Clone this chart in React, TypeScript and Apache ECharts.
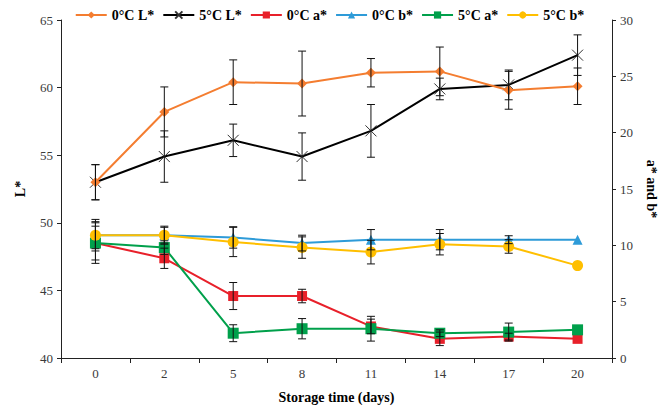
import React, { useEffect, useRef } from "react";
import * as echarts from "echarts";

const days = ["0", "2", "5", "8", "11", "14", "17", "20"];

const L0 = [53.0, 58.2, 60.4, 60.3, 61.1, 61.2, 59.8, 60.1];
const L0err = [1.3, 1.85, 1.65, 2.4, 1.05, 1.8, 1.4, 1.35];
const L5 = [53.0, 54.9, 56.1, 54.9, 56.8, 59.9, 60.2, 62.4];
const L5err = [1.3, 1.9, 1.2, 1.75, 1.95, 0.8, 1.1, 1.5];

const a0 = [10.2, 8.85, 5.5, 5.5, 2.8, 1.7, 1.9, 1.7];
const a0err = [1.8, 0.9, 1.2, 0.6, 0.65, 0.6, 0.3, 0];
const b0 = [10.9, 10.9, 10.7, 10.2, 10.5, 10.5, 10.5, 10.5];
const b0err = [1.2, 0.8, 0.95, 0.7, 0.9, 0.9, 0.35, 0];
const a5 = [10.2, 9.8, 2.2, 2.6, 2.6, 2.2, 2.3, 2.5];
const a5err = [1.5, 0.6, 0.75, 0.9, 1.1, 0.3, 0.8, 0];
const b5 = [10.9, 10.9, 10.3, 9.8, 9.4, 10.1, 9.9, 8.2];
const b5err = [1.4, 0.7, 1.3, 0.95, 1.05, 0.95, 0.6, 0];

const FONT = "Liberation Serif";
const CROSS = "path://M0,0L10,10M10,0L0,10";

function errorSeries(name: string, values: number[], errs: number[], yAxisIndex: number) {
  return {
    type: "custom",
    name: name + " err",
    yAxisIndex,
    z: 4,
    silent: true,
    encode: { x: 0, y: [1, 2] },
    data: values.map((v, i) => [i, v - errs[i], v + errs[i], errs[i]]),
    renderItem: (params: any, api: any) => {
      if (api.value(3) <= 0) return null;
      const x = api.value(0);
      const lo = api.coord([x, api.value(1)]);
      const hi = api.coord([x, api.value(2)]);
      const w = 4;
      const style = { stroke: "#111", lineWidth: 1 };
      return {
        type: "group",
        children: [
          { type: "line", shape: { x1: lo[0], y1: lo[1], x2: hi[0], y2: hi[1] }, style },
          { type: "line", shape: { x1: lo[0] - w, y1: lo[1], x2: lo[0] + w, y2: lo[1] }, style },
          { type: "line", shape: { x1: hi[0] - w, y1: hi[1], x2: hi[0] + w, y2: hi[1] }, style },
        ],
      };
    },
  };
}

function lineSeries(name: string, values: number[], color: string, symbol: string, size: number, yAxisIndex: number, z: number) {
  const isCross = symbol === CROSS;
  return {
    type: "line",
    name,
    data: values,
    yAxisIndex,
    symbol,
    symbolSize: size,
    showSymbol: true,
    z,
    lineStyle: { color, width: 2 },
    itemStyle: isCross
      ? { color: "#000", borderColor: "#333", borderWidth: 1 }
      : { color, borderWidth: 0 },
  };
}

export default function App() {
  const ref = useRef<HTMLDivElement>(null);
  useEffect(() => {
    if (!ref.current) return;
    const chart = echarts.init(ref.current, null, { renderer: "svg" });
    const axisLabel = { fontFamily: FONT, fontSize: 13, color: "#3a3a3a" };
    const nameStyle = { fontFamily: FONT, fontSize: 14, fontWeight: "bold", color: "#000" };
    chart.setOption({
      animation: false,
      backgroundColor: "#fff",
      textStyle: { fontFamily: FONT },
      legend: {
        top: 3,
        left: "center",
        itemWidth: 31,
        itemHeight: 9,
        itemGap: 8,
        textStyle: { fontFamily: FONT, fontSize: 14, fontWeight: "bold", color: "#000" },
        data: ["0°C L*", "5°C L*", "0°C a*", "0°C b*", "5°C a*", "5°C b*"],
      },
      grid: { left: 61, right: 47, top: 20, bottom: 48, containLabel: false, outerBoundsMode: "none" },
      xAxis: {
        type: "category",
        data: days,
        boundaryGap: true,
        name: "Storage time (days)",
        nameLocation: "middle",
        nameGap: 32,
        nameTextStyle: nameStyle,
        axisLine: { lineStyle: { color: "#222", width: 1 } },
        axisTick: { show: true, length: 5, alignWithLabel: false, lineStyle: { color: "#222" } },
        axisLabel: { ...axisLabel, margin: 9 },
        splitLine: { show: false },
      },
      yAxis: [
        {
          type: "value",
          min: 40,
          max: 65,
          interval: 5,
          name: "L*",
          nameLocation: "middle",
          nameGap: 34,
          nameTextStyle: nameStyle,
          axisLine: { show: true, lineStyle: { color: "#222", width: 1 } },
          axisTick: { show: true, length: 4, lineStyle: { color: "#222" } },
          axisLabel: { ...axisLabel, margin: 8 },
          splitLine: { show: false },
        },
        {
          type: "value",
          min: 0,
          max: 30,
          interval: 5,
          position: "right",
          name: "a* and b*",
          nameLocation: "middle",
          nameRotate: -90,
          nameGap: 32,
          nameTextStyle: nameStyle,
          axisLine: { show: true, lineStyle: { color: "#222", width: 1 } },
          axisTick: { show: true, length: 4, lineStyle: { color: "#222" } },
          axisLabel: { ...axisLabel, margin: 8 },
          splitLine: { show: false },
        },
      ],
      series: [
        lineSeries("0°C L*", L0, "#F47D30", "diamond", 10, 0, 3),
        lineSeries("5°C L*", L5, "#000000", CROSS, 11, 0, 2),
        lineSeries("0°C a*", a0, "#E8202A", "rect", 10, 1, 3),
        lineSeries("0°C b*", b0, "#2E9BD8", "triangle", 10, 1, 3),
        lineSeries("5°C a*", a5, "#00A04B", "rect", 11, 1, 3),
        lineSeries("5°C b*", b5, "#FFBF00", "circle", 11, 1, 3),
        errorSeries("0°C L*", L0, L0err, 0),
        errorSeries("5°C L*", L5, L5err, 0),
        errorSeries("0°C a*", a0, a0err, 1),
        errorSeries("0°C b*", b0, b0err, 1),
        errorSeries("5°C a*", a5, a5err, 1),
        errorSeries("5°C b*", b5, b5err, 1),
      ],
    });
    return () => chart.dispose();
  }, []);
  return (
    <div
      ref={ref}
      style={{ position: "fixed", left: 0, top: 0, width: 659, height: 406 }}
    />
  );
}
